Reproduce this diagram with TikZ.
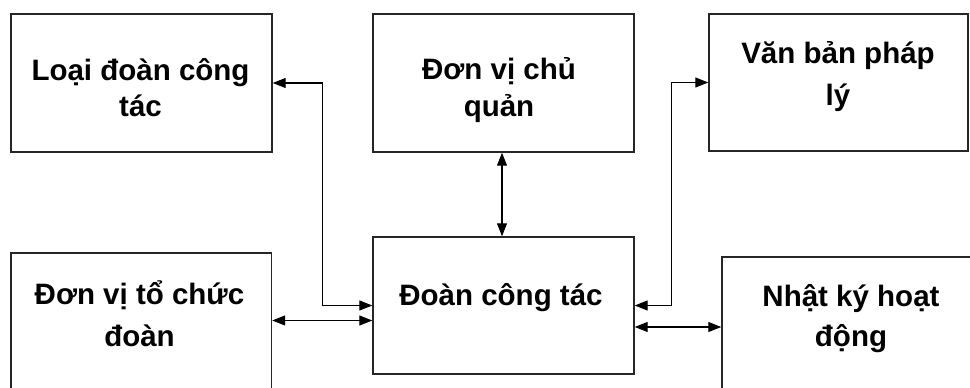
\documentclass[tikz,border=0pt]{standalone}
\usepackage{fontspec}
\setmainfont{Liberation Sans}
\usetikzlibrary{arrows.meta}
\begin{document}
\begin{tikzpicture}[x=1pt,y=-1pt,
  box/.style={draw=black!85,line width=1.4pt,rectangle,inner sep=0pt},
  txt/.style={anchor=base,inner sep=0pt,font=\fontsize{29.5}{35}\selectfont\bfseries},
  conn/.style={line width=1.2pt,{Triangle[length=13pt,width=10pt]}-{Triangle[length=13pt,width=10pt]}}]
\clip (0,0) rectangle (970,388);
\fill[white] (0,0) rectangle (970,388);
% boxes
\node[box,minimum width=261pt,minimum height=138pt] (loai) at (141.5,83) {};
\node[box,minimum width=261pt,minimum height=138pt] (chuquan) at (503.5,83) {};
\node[box,minimum width=259pt,minimum height=137pt] (vanban) at (838.5,82.5) {};
\node[box,minimum width=260.5pt,minimum height=144pt] (tochuc) at (141.25,325) {};
\node[box,minimum width=261pt,minimum height=137pt] (doan) at (503.5,305.5) {};
\node[box,minimum width=263pt,minimum height=140pt] (nhatky) at (853.5,327) {};
% texts
\node[txt] (loai1) at (140.5,80.7) {Loại đoàn công};
\node[txt] (loai2) at (140.5,116.7) {tác};
\node[txt] (chu1) at (499,79.3) {Đơn vị chủ};
\node[txt] (chu2) at (499,116) {quản};
\node[txt] (van1) at (838,63.3) {Văn bản pháp};
\node[txt] (van2) at (838,105) {lý};
\node[txt] (toc1) at (139.5,304.3) {Đơn vị tổ chức};
\node[txt] (toc2) at (139.5,346.7) {đoàn};
\node[txt] (doan1) at (501,305) {Đoàn công tác};
\node[txt] (nhat1) at (851,306.7) {Nhật ký hoạt};
\node[txt] (nhat2) at (851,346.7) {động};
% connectors
\draw[conn] (loai.east) -- ++(50,0) |- (doan.west);
\draw[conn] (doan.east) -- ++(37,0) |- (vanban.west);
\coordinate (cq) at ([xshift=-1.5pt]chuquan.south);
\draw[conn] (cq) -- (cq |- doan.north);
\coordinate (d1) at ([yshift=-15pt]doan.west);
\draw[conn] (d1 -| tochuc.east) -- (d1);
\coordinate (d2) at ([yshift=-21.5pt]doan.east);
\draw[conn] (d2) -- (d2 -| nhatky.west);
\end{tikzpicture}
\end{document}
